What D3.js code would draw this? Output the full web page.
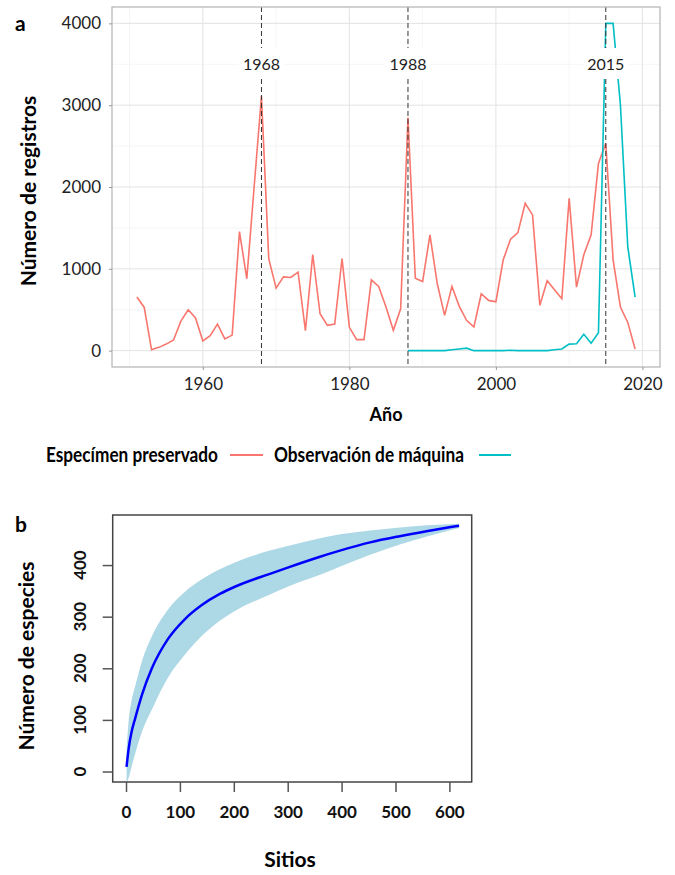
<!DOCTYPE html>
<html>
<head>
<meta charset="utf-8">
<script src="https://cdn.jsdelivr.net/npm/d3@7"></script>
<style>
  body { margin: 0; background: white; }
  svg { display: block; font-family: Lato, "Open Sans", sans-serif; }
</style>
</head>
<body>
<div id="chart"></div>
<script>
// Define constants and variables
const width = 675;
const height = 875;

// panel a: records per year
const years = d3.range(1951, 2020);
const preservedCounts = [
  655, 528, 10, 40, 80, 130, 360, 500, 400, 118,
  183, 325, 143, 190, 1455, 878, 2000, 3110, 1122, 764,
  902, 894, 960, 244, 1175, 451, 309, 325, 1126, 285,
  134, 134, 866, 785, 533, 248, 512, 2850, 886, 845,
  1415, 817, 431, 785, 541, 370, 289, 695, 614, 598,
  1110, 1362, 1443, 1801, 1659, 553, 854, 744, 634, 1862,
  776, 1171, 1415, 2289, 2533, 1110, 533, 345, 20
];
const machineYears = d3.range(1988, 2020);
const machineCounts = [
  0, 0, 0, 0, 0, 0, 10, 20, 30, 0,
  0, 0, 0, 0, 5, 0, 0, 0, 0, 0,
  10, 20, 80, 85, 200, 90, 220, 4000, 4000, 3000,
  1270, 655
];
const markYears = [1968, 1988, 2015];
const yearTicks = [1960, 1980, 2000, 2020];
const yearMinor = [1950, 1970, 1990, 2010];
const countTicks = [0, 1000, 2000, 3000, 4000];
const countMinor = [500, 1500, 2500, 3500];
const seriesNames = ["Especímen preservado", "Observación de máquina"];
const seriesColors = ["#F8766D", "#00BFC4"];

// panel b: species accumulation
const sites = [1, 5, 10, 17, 30, 48, 78, 109, 140, 174, 202, 267, 300, 360, 400, 453, 508, 560, 618];
const speciesMean = [9, 45, 75, 103, 150, 200, 257, 295, 322, 344, 358, 383, 395, 416, 429, 444, 456, 466, 476];
const speciesHigh = [40, 100, 135, 165, 215, 262, 314, 348, 372, 392, 405, 428, 437, 452, 460, 467, 473, 477, 480];
const speciesLow = [-22, -12, 8, 35, 78, 120, 182, 226, 262, 292, 311, 343, 358, 381, 398, 420, 440, 456, 472];
const siteTicks = [0, 100, 200, 300, 400, 500, 600];
const speciesTicks = [0, 100, 200, 300, 400];

const svg = d3.select("#chart").append("svg").attr("width", width).attr("height", height);

// ---------- panel a ----------
const xA = d3.scaleLinear().domain([1947.6, 2022.4]).range([112, 660]);
const yA = d3.scaleLinear().domain([-200, 4200]).range([367, 7]);
const gA = svg.append("g");

// grid
gA.selectAll(".vminor").data(yearMinor).enter().append("line")
  .attr("x1", d => xA(d)).attr("x2", d => xA(d)).attr("y1", 7).attr("y2", 367)
  .attr("stroke", "#f0f0f0").attr("stroke-width", 0.7);
gA.selectAll(".hminor").data(countMinor).enter().append("line")
  .attr("y1", d => yA(d)).attr("y2", d => yA(d)).attr("x1", 112).attr("x2", 660)
  .attr("stroke", "#f0f0f0").attr("stroke-width", 0.7);
gA.selectAll(".vmajor").data(yearTicks).enter().append("line")
  .attr("x1", d => xA(d)).attr("x2", d => xA(d)).attr("y1", 7).attr("y2", 367)
  .attr("stroke", "#e3e3e3").attr("stroke-width", 1);
gA.selectAll(".hmajor").data(countTicks).enter().append("line")
  .attr("y1", d => yA(d)).attr("y2", d => yA(d)).attr("x1", 112).attr("x2", 660)
  .attr("stroke", "#e3e3e3").attr("stroke-width", 1);

const lineA = d3.line().x(d => xA(d[0])).y(d => yA(d[1]));
gA.append("path")
  .datum(years.map((yr, i) => [yr, preservedCounts[i]]))
  .attr("d", lineA).attr("fill", "none")
  .attr("stroke", seriesColors[0]).attr("stroke-width", 1.6);
gA.append("path")
  .datum(machineYears.map((yr, i) => [yr, machineCounts[i]]))
  .attr("d", lineA).attr("fill", "none")
  .attr("stroke", seriesColors[1]).attr("stroke-width", 1.6);

// dashed marker lines with labels
gA.selectAll(".mark").data(markYears).enter().append("line")
  .attr("x1", d => xA(d)).attr("x2", d => xA(d)).attr("y1", 7).attr("y2", 367)
  .attr("stroke", "#333").attr("stroke-width", 1).attr("stroke-dasharray", "5,3");
gA.selectAll(".markbg").data(markYears).enter().append("rect")
  .attr("x", d => xA(d) - 23).attr("y", 48).attr("width", 46).attr("height", 31)
  .attr("fill", "white");
gA.selectAll(".marktext").data(markYears).enter().append("text")
  .attr("x", d => xA(d)).attr("y", 70).attr("text-anchor", "middle")
  .attr("font-size", 16).attr("fill", "#222").text(d => d);

// border
gA.append("rect").attr("x", 112).attr("y", 7).attr("width", 548).attr("height", 360)
  .attr("fill", "none").attr("stroke", "#b3b3b3").attr("stroke-width", 1.2);

// axes
const axLeftA = gA.append("g").attr("transform", "translate(112,0)")
  .call(d3.axisLeft(yA).tickValues(countTicks).tickFormat(d3.format("d")).tickSize(3).tickPadding(8));
const axBottomA = gA.append("g").attr("transform", "translate(0,367)")
  .call(d3.axisBottom(xA).tickValues(yearTicks).tickFormat(d3.format("d")).tickSize(3).tickPadding(8));
[axLeftA, axBottomA].forEach(ax => {
  ax.select(".domain").remove();
  ax.selectAll("line").attr("stroke", "#999");
  ax.selectAll("text").attr("font-size", 17).attr("fill", "#222").attr("font-family", "Lato");
});

svg.append("text").attr("x", 15).attr("y", 31).attr("font-size", 21).attr("font-weight", "bold").text("a");
svg.append("text").attr("transform", "translate(36,191) rotate(-90)").attr("text-anchor", "middle")
  .attr("font-size", 21).attr("font-weight", "bold").text("Número de registros");
svg.append("text").attr("x", 386).attr("y", 421).attr("text-anchor", "middle")
  .attr("font-size", 18).attr("font-weight", "bold").text("Año");

// legend
const legend = svg.append("g");
legend.append("text").attr("x", 46).attr("y", 462).attr("font-size", 20).attr("font-weight", "bold")
  .attr("textLength", 172).attr("lengthAdjust", "spacingAndGlyphs").text(seriesNames[0]);
legend.append("line").attr("x1", 230).attr("x2", 263).attr("y1", 455).attr("y2", 455)
  .attr("stroke", seriesColors[0]).attr("stroke-width", 2);
legend.append("text").attr("x", 274).attr("y", 462).attr("font-size", 20).attr("font-weight", "bold")
  .attr("textLength", 190).attr("lengthAdjust", "spacingAndGlyphs").text(seriesNames[1]);
legend.append("line").attr("x1", 479).attr("x2", 511).attr("y1", 455).attr("y2", 455)
  .attr("stroke", seriesColors[1]).attr("stroke-width", 2);

// ---------- panel b ----------
const xB = d3.scaleLinear().domain([-24.7, 641.4]).range([112.7, 471.7]);
const yB = d3.scaleLinear().domain([-20.3, 497]).range([782, 515]);
const gB = svg.append("g");

gB.append("clipPath").attr("id", "clipB").append("rect")
  .attr("x", 112.7).attr("y", 515).attr("width", 359).attr("height", 267);

const accum = sites.map((s, i) => ({ s: s, m: speciesMean[i], lo: speciesLow[i], hi: speciesHigh[i] }));
gB.append("path").datum(accum)
  .attr("clip-path", "url(#clipB)")
  .attr("d", d3.area().x(d => xB(d.s)).y0(d => yB(d.lo)).y1(d => yB(d.hi)).curve(d3.curveMonotoneX))
  .attr("fill", "#ADD8E6");
gB.append("path").datum(accum)
  .attr("clip-path", "url(#clipB)")
  .attr("d", d3.line().x(d => xB(d.s)).y(d => yB(d.m)).curve(d3.curveMonotoneX))
  .attr("fill", "none").attr("stroke", "#0000FF").attr("stroke-width", 2.5);

gB.append("rect").attr("x", 112.7).attr("y", 515).attr("width", 359).attr("height", 267)
  .attr("fill", "none").attr("stroke", "#444").attr("stroke-width", 1.5);

const axBottomB = gB.append("g").attr("transform", "translate(0,782)")
  .call(d3.axisBottom(xB).tickValues(siteTicks).tickSize(10).tickPadding(14));
axBottomB.select(".domain").remove();
axBottomB.selectAll("line").attr("stroke", "#555").attr("stroke-width", 1.5);
axBottomB.selectAll("text").attr("font-size", 17).attr("font-weight", "bold")
  .attr("fill", "#111").attr("font-family", "Lato");

const axLeftB = gB.append("g").attr("transform", "translate(112.7,0)")
  .call(d3.axisLeft(yB).tickValues(speciesTicks).tickSize(10).tickFormat(""));
axLeftB.select(".domain").remove();
axLeftB.selectAll("line").attr("stroke", "#555").attr("stroke-width", 1.5);
gB.selectAll(".ylab").data(speciesTicks).enter().append("text")
  .attr("transform", d => `translate(86,${yB(d)}) rotate(-90)`)
  .attr("text-anchor", "middle").attr("font-size", 17).attr("font-weight", "bold")
  .attr("fill", "#111").text(d => d);

svg.append("text").attr("x", 15).attr("y", 532).attr("font-size", 21).attr("font-weight", "bold").text("b");
svg.append("text").attr("transform", "translate(34,656) rotate(-90)").attr("text-anchor", "middle")
  .attr("font-size", 21).attr("font-weight", "bold").text("Número de especies");
svg.append("text").attr("x", 290).attr("y", 867).attr("text-anchor", "middle")
  .attr("font-size", 21).attr("font-weight", "bold").text("Sitios");
</script>
</body>
</html>
